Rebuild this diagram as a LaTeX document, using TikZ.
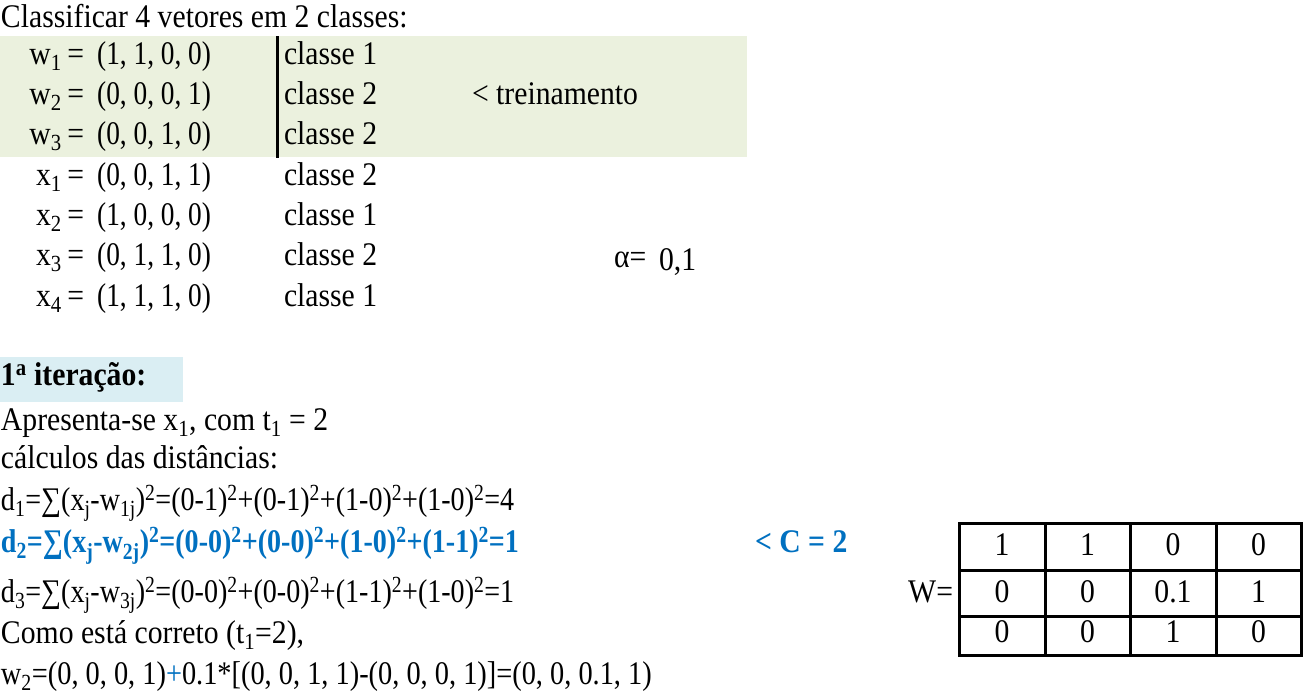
\documentclass[tikz,border=0pt]{standalone}
\usepackage{graphicx}
\usepackage{fontspec}
\setmainfont{Liberation Serif}[FakeStretch=0.9]
\definecolor{bandgreen}{HTML}{EBF1DE}
\definecolor{bandblue}{HTML}{DAEEF3}
\definecolor{hiblue}{HTML}{0070C0}
\newcommand\sbs[1]{\textsubscript{#1}}
\newcommand\sps[1]{\textsuperscript{#1}}
\newcommand\narrow[2]{\scalebox{#1}[1]{#2}}
\begin{document}
\begin{tikzpicture}[x=1pt,y=-1pt,
  txt/.style={inner sep=0pt, outer sep=0pt, font=\fontsize{33}{38}\selectfont},
  lft/.style={txt, anchor=base west},
  rgt/.style={txt, anchor=base east},
  ctr/.style={txt, anchor=base},
  hi/.style={text=hiblue, font=\fontsize{33}{38}\selectfont\bfseries},
  rule/.style={line width=3pt, black}]
\useasboundingbox (0,0) rectangle (1309,699);
% bands
\fill[bandgreen] (0,36) rectangle (747,157);
\fill[bandblue] (0,357) rectangle (183,402);
\draw[rule] (277.5,36) -- (277.5,158);
% heading
\node[lft] (head) at (1,27) {Classificar 4 vetores em 2 classes:};
% training vectors
\node[rgt] (lw1) at (84,64) {w\sbs{1}\,=};
\node[rgt] (vw1) at (211,64) {\narrow{0.92}{(1, 1, 0, 0)}};
\node[lft] (cw1) at (284,64) {classe 1};
\node[rgt] (lw2) at (84,104) {w\sbs{2}\,=};
\node[rgt] (vw2) at (211,104) {\narrow{0.92}{(0, 0, 0, 1)}};
\node[lft] (cw2) at (284,104) {classe 2};
\node[rgt] (lw3) at (84,144) {w\sbs{3}\,=};
\node[rgt] (vw3) at (211,144) {\narrow{0.92}{(0, 0, 1, 0)}};
\node[lft] (cw3) at (284,144) {classe 2};
\node[lft] (trein) at (472,104) {<~treinamento};
% input vectors
\node[rgt] (lx1) at (84,185) {x\sbs{1}\,=};
\node[rgt] (vx1) at (211,185) {\narrow{0.92}{(0, 0, 1, 1)}};
\node[lft] (cx1) at (284,185) {classe 2};
\node[rgt] (lx2) at (84,225) {x\sbs{2}\,=};
\node[rgt] (vx2) at (211,225) {\narrow{0.92}{(1, 0, 0, 0)}};
\node[lft] (cx2) at (284,225) {classe 1};
\node[rgt] (lx3) at (84,265) {x\sbs{3}\,=};
\node[rgt] (vx3) at (211,265) {\narrow{0.92}{(0, 1, 1, 0)}};
\node[lft] (cx3) at (284,265) {classe 2};
\node[rgt] (lx4) at (84,306) {x\sbs{4}\,=};
\node[rgt] (vx4) at (211,306) {\narrow{0.92}{(1, 1, 1, 0)}};
\node[lft] (cx4) at (284,306) {classe 1};
\node[lft, font=\fontsize{33}{38}\selectfont] (alpha) at (614,267) {α=};
\node[lft] (alphav) at (659,270) {0,1};
% iteration
\node[lft, font=\fontsize{33}{38}\selectfont\bfseries] (iter) at (1,385) {1\sps{a} iteração:};
\node[lft] (apr) at (1,430) {Apresenta-se x\sbs{1}, com t\sbs{1} = 2};
\node[lft] (calc) at (1,468) {cálculos das distâncias:};
\node[lft] (d1) at (1,510) {\narrow{0.945}{d\sbs{1}=∑(x\sbs{j}-w\sbs{1j})\sps{2}=(0-1)\sps{2}+(0-1)\sps{2}+(1-0)\sps{2}+(1-0)\sps{2}=4}};
\node[lft, hi] (d2) at (1,552) {\narrow{0.945}{d\sbs{2}=∑(x\sbs{j}-w\sbs{2j})\sps{2}=(0-0)\sps{2}+(0-0)\sps{2}+(1-0)\sps{2}+(1-1)\sps{2}=1}};
\node[lft, hi] (cls) at (755,552) {< C = 2};
\node[lft] (d3) at (1,602) {\narrow{0.945}{d\sbs{3}=∑(x\sbs{j}-w\sbs{3j})\sps{2}=(0-0)\sps{2}+(0-0)\sps{2}+(1-1)\sps{2}+(1-0)\sps{2}=1}};
\node[lft] (como) at (1,643) {Como está correto (t\sbs{1}=2),};
\node[lft] (upd) at (1,684) {\narrow{0.955}{w\sbs{2}=(0, 0, 0, 1)\textcolor{hiblue}{+}0.1*[(0, 0, 1, 1)-(0, 0, 0, 1)]=(0, 0, 0.1, 1)}};
% weight table
\node[rgt] (Wlab) at (953,602) {W=};
\draw[rule] (959,523) rectangle (1301,655);
\foreach \x in {1045,1130,1216} \draw[rule] (\x,523) -- (\x,655);
\foreach \y in {570,616} \draw[rule] (959,\y) -- (1301,\y);
\foreach \v [count=\i] in {1,1,0,0} \node[ctr] (a1\i) at (916.5+85.5*\i,555) {\v};
\foreach \v [count=\i] in {0,0,0.1,1} \node[ctr] (a2\i) at (916.5+85.5*\i,602) {\v};
\foreach \v [count=\i] in {0,0,1,0} \node[ctr] (a3\i) at (916.5+85.5*\i,642) {\v};
\end{tikzpicture}
\end{document}
